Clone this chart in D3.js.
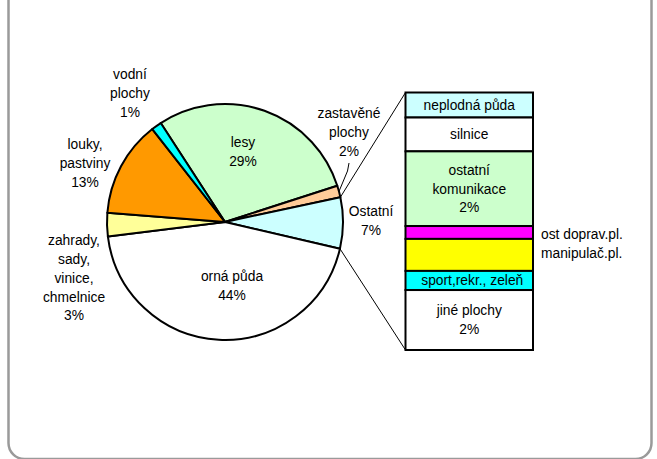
<!DOCTYPE html>
<html>
<head>
<meta charset="utf-8">
<script src="https://cdn.jsdelivr.net/npm/d3@7"></script>
<style>
  body { margin: 0; background: #fff; }
  svg { display: block; }
</style>
</head>
<body>
<div id="chart"></div>
<script>
// podíly druhů pozemků (%)
const pieNames = ["lesy", "zastavěné plochy", "Ostatní", "orná půda", "zahrady, sady, vinice, chmelnice", "louky, pastviny", "vodní plochy"];
const pieValues = [29.2, 1.6, 7.0, 44.4, 3.2, 13.2, 1.4];
const pieColors = ["#CCFFCC", "#FFCC99", "#CCFFFF", "#FFFFFF", "#FFFF99", "#FF9900", "#00FFFF"];
const pieLabelLines = [
    ["lesy", "29%"],
    ["zastavěné", "plochy", "2%"],
    ["Ostatní", "7%"],
    ["orná půda", "44%"],
    ["zahrady,", "sady,", "vinice,", "chmelnice", "3%"],
    ["louky,", "pastviny", "13%"],
    ["vodní", "plochy", "1%"]
];

// rozpad položky Ostatní (sloupec)
const barNames = ["neplodná půda", "silnice", "ostatní komunikace", "ost doprav.pl.", "manipulač.pl.", "sport,rekr., zeleň", "jiné plochy"];
const barValues = [0.68, 0.92, 2.03, 0.35, 0.87, 0.52, 1.63];
const barColors = ["#CCFFFF", "#FFFFFF", "#CCFFCC", "#FF00FF", "#FFFF00", "#00FFFF", "#FFFFFF"];
const barLabelLines = [
    ["neplodná půda"],
    ["silnice"],
    ["ostatní", "komunikace", "2%"],
    ["ost doprav.pl."],
    ["manipulač.pl."],
    ["sport,rekr., zeleň"],
    ["jiné plochy", "2%"]
];
const barLabelOutside = [false, false, false, true, true, false, false];

const width = 657, height = 459;
const cx = 225, cy = 222, r = 118;
const lineH = 18.7;
const font = "'Liberation Sans', Arial, sans-serif";

const svg = d3.select("#chart").append("svg")
    .attr("width", width)
    .attr("height", height)
    .style("font-family", font);

// rámeček
svg.append("rect")
    .attr("x", 8.5).attr("y", -30)
    .attr("width", 643).attr("height", 489)
    .attr("rx", 16)
    .attr("fill", "none")
    .attr("stroke", "#9a9a9a")
    .attr("stroke-width", 2.5);

// koláč
const pie = d3.pie().sort(null).value(d => d)
    .startAngle(-33 * Math.PI / 180)
    .endAngle(-33 * Math.PI / 180 + 2 * Math.PI);
const arcs = pie(pieValues);
const arc = d3.arc().innerRadius(0).outerRadius(r);

const g = svg.append("g").attr("transform", `translate(${cx},${cy})`);
g.selectAll("path.slice")
    .data(arcs)
    .join("path")
    .attr("class", "slice")
    .attr("d", arc)
    .attr("fill", (d, i) => pieColors[i])
    .attr("stroke", "#000")
    .attr("stroke-width", 2)
    .attr("stroke-linejoin", "round");

// popisky koláče (střed textu)
const pieLabelPos = [[243, 152], [349, 132], [371, 221], [232, 286], [74, 278], [85, 163], [130, 93]];
pieLabelLines.forEach((lines, i) => {
    const [x, y] = pieLabelPos[i];
    const t = svg.append("text")
        .attr("text-anchor", "middle")
        .attr("font-size", 13.8)
        .attr("fill", "#000");
    lines.forEach((s, j) => {
        t.append("tspan")
            .attr("x", x)
            .attr("y", y + (j - (lines.length - 1) / 2) * lineH)
            .attr("dy", "0.35em")
            .text(s);
    });
});

// odkazová čára u zastavěných ploch
const zast = arcs[1];
const zMid = (zast.startAngle + zast.endAngle) / 2;
svg.append("polyline")
    .attr("points", [
        [349, 163], [347.5, 171],
        [cx + r * Math.sin(zMid), cy - r * Math.cos(zMid)]
    ].map(p => p.join(",")).join(" "))
    .attr("fill", "none")
    .attr("stroke", "#000")
    .attr("stroke-width", 1);

// sloupec
const barX0 = 405.5, barX1 = 533;
const total = d3.sum(barValues);
const yScale = d3.scaleLinear().domain([0, total]).range([92.5, 350]);
let acc = 0;
const stacked = barValues.map((v, i) => {
    const d = { i, y0: acc, y1: acc + v };
    acc += v;
    return d;
});

// spojnice koláč -> sloupec
const ost = arcs[2];
const pTop = [cx + r * Math.sin(ost.startAngle), cy - r * Math.cos(ost.startAngle)];
const pBot = [cx + r * Math.sin(ost.endAngle), cy - r * Math.cos(ost.endAngle)];
svg.append("line")
    .attr("x1", pTop[0]).attr("y1", pTop[1])
    .attr("x2", barX0).attr("y2", yScale(0))
    .attr("stroke", "#000").attr("stroke-width", 1);
svg.append("line")
    .attr("x1", pBot[0]).attr("y1", pBot[1])
    .attr("x2", barX0).attr("y2", yScale(total))
    .attr("stroke", "#000").attr("stroke-width", 1);

svg.selectAll("rect.seg")
    .data(stacked)
    .join("rect")
    .attr("class", "seg")
    .attr("x", barX0)
    .attr("y", d => yScale(d.y0))
    .attr("width", barX1 - barX0)
    .attr("height", d => yScale(d.y1) - yScale(d.y0))
    .attr("fill", d => barColors[d.i])
    .attr("stroke", "#000")
    .attr("stroke-width", 2);

stacked.forEach(d => {
    const lines = barLabelLines[d.i];
    const yc = (yScale(d.y0) + yScale(d.y1)) / 2;
    const outside = barLabelOutside[d.i];
    const t = svg.append("text")
        .attr("text-anchor", outside ? "start" : "middle")
        .attr("font-size", 13.8)
        .attr("fill", "#000");
    const extra = d.i === 3 ? 1.5 : (d.i === 4 ? -1.5 : 0);
    lines.forEach((s, j) => {
        t.append("tspan")
            .attr("x", outside ? 541 : (barX0 + barX1) / 2 + (d.i === 5 ? 3 : 0))
            .attr("y", yc + extra + (j - (lines.length - 1) / 2) * lineH)
            .attr("dy", "0.35em")
            .text(s);
    });
});
</script>
</body>
</html>
